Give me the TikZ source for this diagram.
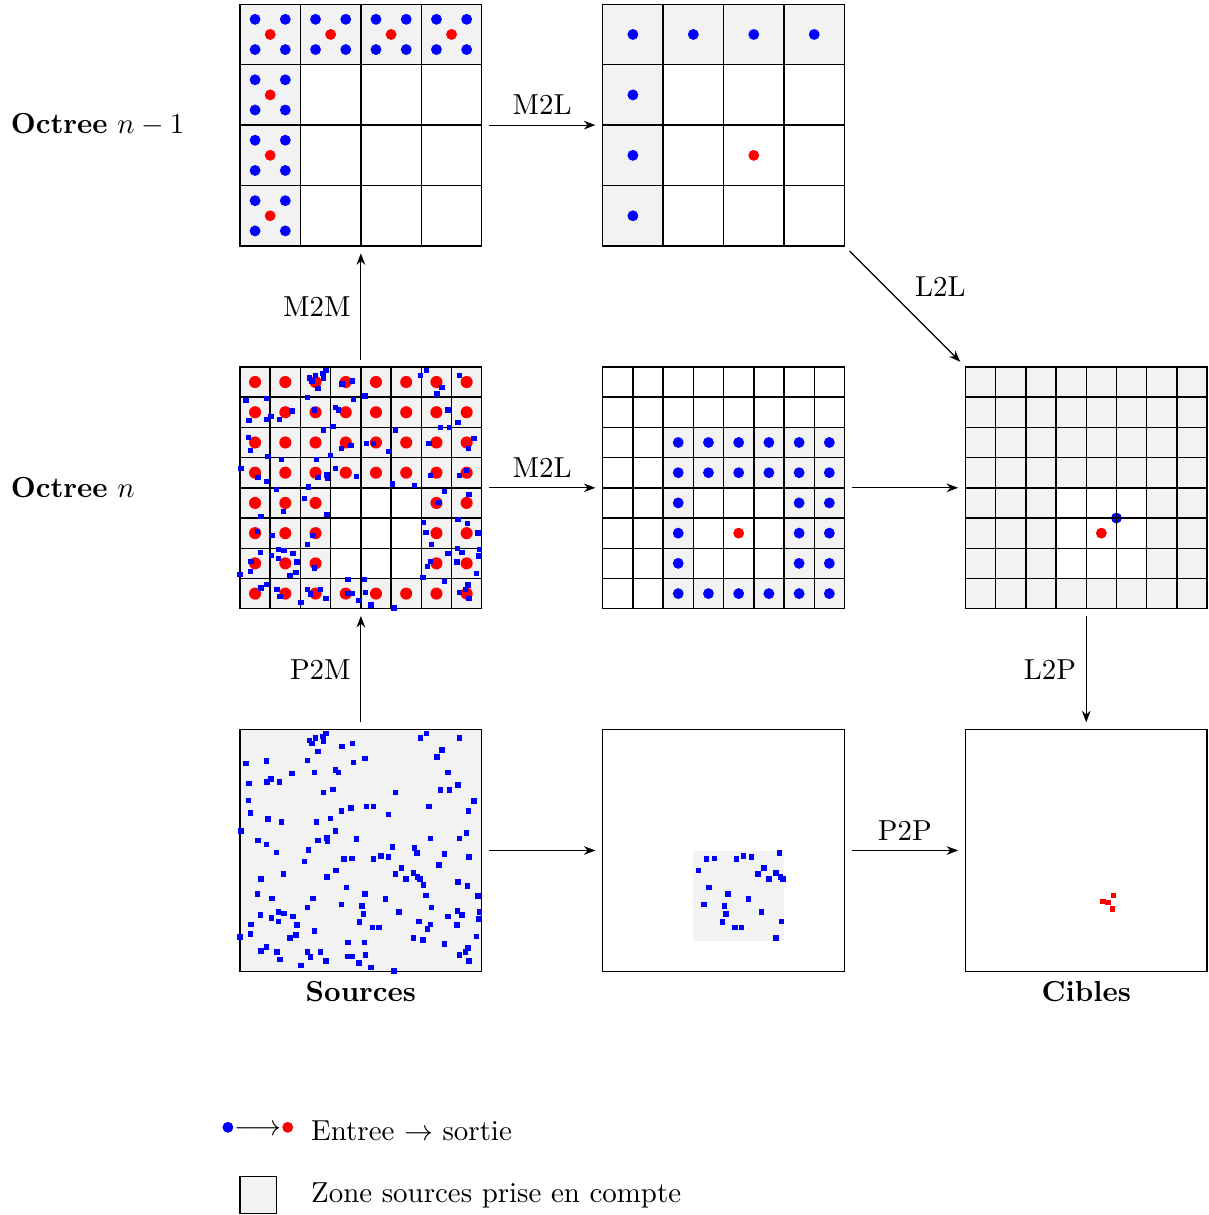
\documentclass[tikz,border=0pt]{standalone}
\usepackage{tikz}
\usetikzlibrary{
  arrows.meta,
  positioning
}
\tikzset{
  % Square panel of one octree level
  panel/.style={
    draw, line width=0.5pt,
    minimum size=2.94cm, inner sep=0pt, outer sep=0pt
  },
  % Cells whose sources are taken into account
  zone/.style={fill=gray!10},
  % Cell grid
  cellgrid/.style={line width=0.5pt},
  % Operator arrow
  flow/.style={
    -{Stealth[length=4pt,width=3pt]}, shorten <=2.5pt, shorten >=2.5pt
  },
}

% Source particles (panel coordinates), outside / inside the near block
\def\farsources{1.42/3.94, 3.09/3.94, 1.15/3.82, 1.25/3.86, 1.19/3.77,
  1.37/3.89, 1.38/3.81, 2.99/3.86, 3.63/3.86, 1.69/3.72, 1.86/3.77,
  3.34/3.66, 1.29/3.64, 3.26/3.55, 2.07/3.52, 0.10/3.44, 0.44/3.48,
  1.12/3.49, 1.88/3.46, 1.58/3.33, 1.63/3.29, 1.23/3.29, 0.86/3.27,
  3.44/3.29, 0.51/3.18, 0.45/3.13, 0.65/3.13, 0.15/3.11, 3.61/3.08,
  1.38/2.96, 1.54/3.01, 2.57/2.96, 3.32/3.00, 3.47/3.00, 0.14/2.83,
  3.87/2.82, 2.09/2.73, 2.21/2.73, 1.84/2.70, 1.68/2.65, 3.13/2.73,
  2.46/2.60, 3.78/2.65, 0.17/2.62, 0.46/2.52, 0.69/2.47, 1.27/2.47,
  1.50/2.53, 0.02/2.32, 1.58/2.32, 3.75/2.29, 0.30/2.17, 0.44/2.10,
  1.29/2.17, 1.44/2.21, 1.45/2.16, 1.93/2.19, 3.15/2.20, 3.63/2.20,
  0.60/1.97, 1.13/2.01, 2.52/2.06, 2.89/2.04, 3.38/1.94, 1.07/1.82,
  3.79/1.89, 3.29/1.76, 0.72/1.61, 0.35/1.53, 1.44/1.56, 3.04/1.43,
  3.61/1.48, 3.76/1.41, 0.29/1.28, 0.53/1.21, 1.21/1.21, 3.08/1.26,
  3.94/1.25, 1.12/1.06, 3.17/1.06, 0.34/0.93, 0.64/0.98, 0.73/0.96,
  0.88/0.91, 3.44/0.91, 3.60/1.00, 3.67/0.93, 3.96/0.98, 0.52/0.88,
  0.64/0.83, 3.15/0.78, 3.95/0.87, 0.18/0.78, 0.94/0.77, 3.10/0.70,
  3.59/0.77, 0.00/0.57, 0.17/0.62, 0.83/0.55, 0.93/0.60, 1.23/0.67,
  3.03/0.52, 3.91/0.58, 1.79/0.48, 2.06/0.48, 3.38/0.45, 0.44/0.40,
  0.35/0.34, 0.61/0.32, 1.12/0.32, 1.33/0.32, 3.77/0.39, 3.73/0.32,
  3.63/0.27, 0.66/0.20, 1.17/0.24, 1.78/0.25, 1.86/0.25, 2.08/0.27,
  3.79/0.17, 1.01/0.10, 1.42/0.17, 1.97/0.14, 2.17/0.06, 2.55/0.01}
\def\nearsources{2.93/1.96, 1.72/1.86, 1.85/1.87, 2.21/1.86, 2.33/1.91,
  2.46/1.89, 1.59/1.67, 2.67/1.71, 2.57/1.61, 2.87/1.63, 2.75/1.53,
  2.94/1.56, 2.98/1.53, 1.76/1.39, 2.07/1.28, 2.41/1.20, 1.68/1.11,
  2.02/1.08, 2.04/0.95, 2.63/0.98, 1.98/0.82, 2.96/0.83, 2.19/0.73,
  2.30/0.73, 2.87/0.55}
\def\targetpts{2.45/1.26, 2.28/1.16, 2.36/1.14, 2.43/1.03}

\begin{document}
\begin{tikzpicture}[x=0.735cm, y=0.735cm]

\useasboundingbox (-3.97,-4.03) rectangle (16.02,16.07);

% ── Panels ────────────────────────────────────────────────────────────────────
\node[panel] (srcUp)   at (2,14) {};
\node[panel] (locUp)   at (8,14) {};
\node[panel] (srcLow)  at (2,8)  {};
\node[panel] (m2lLow)  at (8,8)  {};
\node[panel] (locLow)  at (14,8) {};
\node[panel, zone] (sources) at (2,2)  {};
\node[panel] (near)    at (8,2)  {};
\node[panel] (targets) at (14,2) {};

% Level labels
\node[anchor=west] (lvlUp)  at (-3.96,14) {\textbf{Octree} $n-1$};
\node[anchor=west] (lvlLow) at (-3.96,8)  {\textbf{Octree} $n$};

% ── Octree n-1 : multipoles ───────────────────────────────────────────────────
\begin{scope}[shift={(srcUp.south west)}]
  \fill[zone] (0,3) rectangle (4,4);
  \fill[zone] (0,0) rectangle (1,3);
  \foreach \cx/\cy in {0.5/3.5, 1.5/3.5, 2.5/3.5, 3.5/3.5,
                       0.5/2.5, 0.5/1.5, 0.5/0.5}{
    \foreach \dx/\dy in {-0.25/-0.25, -0.25/0.25, 0.25/-0.25, 0.25/0.25}
      \fill[blue] (\cx+\dx,\cy+\dy) circle (0.09);
    \fill[red] (\cx,\cy) circle (0.09);
  }
  \draw[cellgrid, step=1] (0,0) grid (4,4);
\end{scope}

% ── Octree n-1 : local expansion ──────────────────────────────────────────────
\begin{scope}[shift={(locUp.south west)}]
  \fill[zone] (0,3) rectangle (4,4);
  \fill[zone] (0,0) rectangle (1,3);
  \foreach \cx/\cy in {0.5/3.5, 1.5/3.5, 2.5/3.5, 3.5/3.5,
                       0.5/2.5, 0.5/1.5, 0.5/0.5}
    \fill[blue] (\cx,\cy) circle (0.09);
  \fill[red] (2.5,1.5) circle (0.09);
  \draw[cellgrid, step=1] (0,0) grid (4,4);
\end{scope}

% ── Octree n : multipoles ─────────────────────────────────────────────────────
\begin{scope}[shift={(srcLow.south west)}]
  \fill[zone] (0,0) rectangle (4,4);
  \fill[white] (1.5,0.5) rectangle (3,2);
  \foreach \i in {0,...,7}{
    \foreach \j in {0,...,7}{
      \pgfmathtruncatemacro\inblock{(\i>2)&&(\i<6)&&(\j>0)&&(\j<4)}
      \ifnum\inblock=0
        \fill[red] (\i*0.5+0.25,\j*0.5+0.25) circle (0.1);
      \fi
    }
  }
  \draw[cellgrid, step=0.5] (0,0) grid (4,4);
  \foreach \x/\y in \farsources
    \fill[blue] (\x,\y) ++(-0.045,-0.045) rectangle ++(0.09,0.09);
\end{scope}

% ── Octree n : M2L interaction list ───────────────────────────────────────────
\begin{scope}[shift={(m2lLow.south west)}]
  \fill[zone] (1,0) rectangle (4,3);
  \fill[white] (1.5,0.5) rectangle (3,2);
  \foreach \i in {2,...,7}{
    \foreach \j in {0,...,5}{
      \pgfmathtruncatemacro\inblock{(\i>2)&&(\i<6)&&(\j>0)&&(\j<4)}
      \ifnum\inblock=0
        \fill[blue] (\i*0.5+0.25,\j*0.5+0.25) circle (0.09);
      \fi
    }
  }
  \fill[red] (2.25,1.25) circle (0.09);
  \draw[cellgrid, step=0.5] (0,0) grid (4,4);
\end{scope}

% ── Octree n : local expansion ────────────────────────────────────────────────
\begin{scope}[shift={(locLow.south west)}]
  \fill[zone] (0,0) rectangle (4,4);
  \fill[white] (1.5,0.5) rectangle (3,2);
  \fill[blue] (2.5,1.5) circle (0.09);
  \fill[red] (2.25,1.25) circle (0.09);
  \draw[cellgrid, step=0.5] (0,0) grid (4,4);
\end{scope}

% ── Particles ─────────────────────────────────────────────────────────────────
\begin{scope}[shift={(sources.south west)}]
  \foreach \x/\y in \farsources
    \fill[blue] (\x,\y) ++(-0.045,-0.045) rectangle ++(0.09,0.09);
  \foreach \x/\y in \nearsources
    \fill[blue] (\x,\y) ++(-0.045,-0.045) rectangle ++(0.09,0.09);
\end{scope}

\begin{scope}[shift={(near.south west)}]
  \fill[zone] (1.5,0.5) rectangle (3,2);
  \foreach \x/\y in \nearsources
    \fill[blue] (\x,\y) ++(-0.045,-0.045) rectangle ++(0.09,0.09);
\end{scope}

\begin{scope}[shift={(targets.south west)}]
  \foreach \x/\y in \targetpts
    \fill[red] (\x,\y) ++(-0.045,-0.045) rectangle ++(0.09,0.09);
\end{scope}

\node[font=\bfseries, below=0pt of sources] (sourcesLbl) {Sources};
\node[font=\bfseries, below=0pt of targets] (targetsLbl) {Cibles};

% ── Operators ─────────────────────────────────────────────────────────────────
\draw[flow] (srcLow) -- node[left] {M2M} (srcUp);
\draw[flow] (srcUp) -- node[above] {M2L} (locUp);
\draw[flow] (locUp) -- node[above right] {L2L} (locLow);
\draw[flow] (srcLow) -- node[above] {M2L} (m2lLow);
\draw[flow] (m2lLow) -- (locLow);
\draw[flow] (sources) -- node[left] {P2M} (srcLow);
\draw[flow] (locLow) -- node[left] {L2P} (targets);
\draw[flow] (sources) -- (near);
\draw[flow] (near) -- node[above] {P2P} (targets);

% ── Legend ────────────────────────────────────────────────────────────────────
\fill[blue] (-0.2,-2.58) circle (0.09);
\node[inner sep=0pt] (legArrow) at (0.3,-2.63) {$\longrightarrow$};
\fill[red] (0.79,-2.58) circle (0.09);
\node[anchor=base west] (legIO) at (1.01,-2.79) {Entree $\to$ sortie};

\draw[zone] (0,-4.0) rectangle (0.6,-3.39);
\node[anchor=base west] (legZone) at (1.01,-3.83) {Zone sources prise en compte};

\end{tikzpicture}
\end{document}
